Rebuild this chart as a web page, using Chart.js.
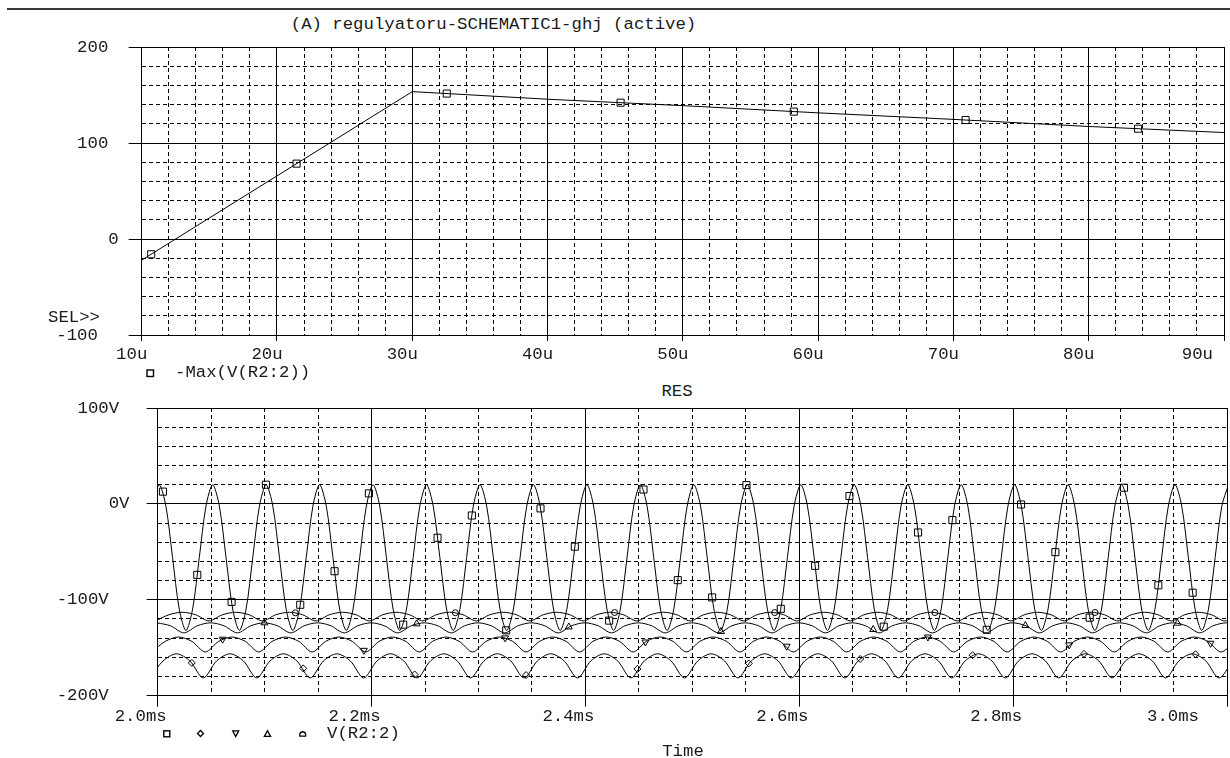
<!DOCTYPE html>
<html>
<head>
<meta charset="utf-8">
<script src="https://cdn.jsdelivr.net/npm/chart.js@4.4.1/dist/chart.umd.min.js"></script>
<style>
  html, body { margin: 0; padding: 0; background: #fff; overflow: hidden; }
  body { width: 1230px; height: 758px; position: relative; }
  canvas { position: absolute; left: 0; }
  #topPlot { top: 0; }
  #resPlot { top: 380px; }
  .txt {
    position: absolute; white-space: pre; line-height: 1;
    font-family: 'Liberation Mono', 'Courier New', monospace; font-size: 17.33px; color: #1a1a1a;
    transform: translate(0, -50%);
  }
  .mid { transform: translate(-50%, -50%); }
  .rule { position: absolute; left: 7px; top: 8px; width: 1223px; height: 2px; background: #3a3a3a; }
  svg { position: absolute; overflow: visible; }
</style>
</head>
<body>
<div class="rule"></div>
<div class="txt mid" style="left:493.5px; top:25px">(A) regulyatoru-SCHEMATIC1-ghj (active)</div>
<canvas id="topPlot" width="1230" height="380"></canvas>
<div class="txt" style="left:48px; top:318px">SEL&gt;&gt;</div>
<svg style="left:146px; top:369px" width="9" height="9"><rect x="1" y="1" width="6.5" height="6.5" fill="none" stroke="#000" stroke-width="1.4"/></svg>
<div class="txt" style="left:175px; top:373px">-Max(V(R2:2))</div>
<div class="txt mid" style="left:677px; top:392px">RES</div>
<canvas id="resPlot" width="1233" height="378"></canvas>
<svg style="left:163px; top:730px" width="8" height="8"><rect x="0.8" y="0.8" width="6" height="6" fill="none" stroke="#000" stroke-width="1.4"/></svg>
<svg style="left:197px; top:730px" width="8" height="8"><path d="M3.5 0.5 L6.5 3.5 L3.5 6.5 L0.5 3.5 Z" fill="none" stroke="#000" stroke-width="1.3"/></svg>
<svg style="left:232px; top:730px" width="8" height="8"><path d="M0.7 0.8 L6.7 0.8 L3.7 6.6 Z" fill="none" stroke="#000" stroke-width="1.3"/></svg>
<svg style="left:264px; top:730px" width="8" height="8"><path d="M3.5 0.7 L6.6 6.4 L0.4 6.4 Z" fill="none" stroke="#000" stroke-width="1.3"/></svg>
<svg style="left:299px; top:730px" width="8" height="8"><path d="M0.8 6.2 L0.8 4 A3 3 0 0 1 6.6 4 L6.6 6.2 Z" fill="none" stroke="#000" stroke-width="1.3"/></svg>
<div class="txt" style="left:327px; top:734px">V(R2:2)</div>
<div class="txt mid" style="left:683px; top:752px">Time</div>

<script>
// --- DATA: top panel, -Max(V(R2:2)) against the swept value (u) ---
const sweepX = [10, 30, 40, 50, 60, 70, 80, 90];
const sweepMaxV = [-22, 153.5, 145.6, 138.9, 131.4, 124.6, 117.2, 110.9];
const sweepMarkX = [10.7, 21.45, 32.55, 45.4, 58.2, 70.9, 83.65];
const sweepMarkV = [-15.9, 78.5, 151.5, 142.0, 132.7, 123.9, 114.9];

// --- DATA: bottom panel, V(R2:2) for the five sweep runs (time in us) ---
const runStart = [1995.15, 1998.0, 1999.5, 1994.5, 1992.6];
const runStep = [6.25, 12.5, 12.5, 12.5, 12.5];

const runSquare = [
  -2.3, 20, -2.3, -56, -109.7, -132, -109.7, -56,
  -2.3, 20, -2.3, -56, -109.7, -132, -109.7, -56,
  -2.3, 20, -2.3, -56, -109.7, -132, -109.7, -56,
  -2.3, 20, -2.3, -56, -109.7, -132, -109.7, -56,
  -2.3, 20, -2.3, -56, -109.7, -132, -109.7, -56,
  -2.3, 20, -2.3, -56, -109.7, -132, -109.7, -56,
  -2.3, 20, -2.3, -56, -109.7, -132, -109.7, -56,
  -2.3, 20, -2.3, -56, -109.7, -132, -109.7, -56,
  -2.3, 20, -2.3, -56, -109.7, -132, -109.7, -56,
  -2.3, 20, -2.3, -56, -109.7, -132, -109.7, -56,
  -2.3, 20, -2.3, -56, -109.7, -132, -109.7, -56,
  -2.3, 20, -2.3, -56, -109.7, -132, -109.7, -56,
  -2.3, 20, -2.3, -56, -109.7, -132, -109.7, -56,
  -2.3, 20, -2.3, -56, -109.7, -132, -109.7, -56,
  -2.3, 20, -2.3, -56, -109.7, -132, -109.7, -56,
  -2.3, 20, -2.3, -56, -109.7, -132, -109.7, -56,
  -2.3, 20, -2.3, -56, -109.7, -132, -109.7, -56,
  -2.3, 20, -2.3, -56, -109.7, -132, -109.7, -56,
  -2.3, 20, -2.3, -56, -109.7, -132, -109.7, -56,
  -2.3, 20, -2.3, -56, -109.7, -132, -109.7, -56,
  -2.3, 20
];
const runCircle = [
  -122, -115.6, -113, -115.6, -122, -115.6, -113, -115.6,
  -122, -115.6, -113, -115.6, -122, -115.6, -113, -115.6,
  -122, -115.6, -113, -115.6, -122, -115.6, -113, -115.6,
  -122, -115.6, -113, -115.6, -122, -115.6, -113, -115.6,
  -122, -115.6, -113, -115.6, -122, -115.6, -113, -115.6,
  -122, -115.6, -113, -115.6, -122, -115.6, -113, -115.6,
  -122, -115.6, -113, -115.6, -122, -115.6, -113, -115.6,
  -122, -115.6, -113, -115.6, -122, -115.6, -113, -115.6,
  -122, -115.6, -113, -115.6, -122, -115.6, -113, -115.6,
  -122, -115.6, -113, -115.6, -122, -115.6, -113, -115.6,
  -122, -115.6
];
const runTriUp = [
  -124, -127.1, -134.5, -127.1, -124, -127.1, -134.5, -127.1,
  -124, -127.1, -134.5, -127.1, -124, -127.1, -134.5, -127.1,
  -124, -127.1, -134.5, -127.1, -124, -127.1, -134.5, -127.1,
  -124, -127.1, -134.5, -127.1, -124, -127.1, -134.5, -127.1,
  -124, -127.1, -134.5, -127.1, -124, -127.1, -134.5, -127.1,
  -124, -127.1, -134.5, -127.1, -124, -127.1, -134.5, -127.1,
  -124, -127.1, -134.5, -127.1, -124, -127.1, -134.5, -127.1,
  -124, -127.1, -134.5, -127.1, -124, -127.1, -134.5, -127.1,
  -124, -127.1, -134.5, -127.1, -124, -127.1, -134.5, -127.1,
  -124, -127.1, -134.5, -127.1, -124, -127.1, -134.5, -127.1,
  -124, -127.1
];
const runTriDown = [
  -154.4, -143.4, -138.8, -143.4, -154.4, -143.4, -138.8, -143.4,
  -154.4, -143.4, -138.8, -143.4, -154.4, -143.4, -138.8, -143.4,
  -154.4, -143.4, -138.8, -143.4, -154.4, -143.4, -138.8, -143.4,
  -154.4, -143.4, -138.8, -143.4, -154.4, -143.4, -138.8, -143.4,
  -154.4, -143.4, -138.8, -143.4, -154.4, -143.4, -138.8, -143.4,
  -154.4, -143.4, -138.8, -143.4, -154.4, -143.4, -138.8, -143.4,
  -154.4, -143.4, -138.8, -143.4, -154.4, -143.4, -138.8, -143.4,
  -154.4, -143.4, -138.8, -143.4, -154.4, -143.4, -138.8, -143.4,
  -154.4, -143.4, -138.8, -143.4, -154.4, -143.4, -138.8, -143.4,
  -154.4, -143.4, -138.8, -143.4, -154.4, -143.4, -138.8, -143.4,
  -154.4, -143.4
];
const runDiamond = [
  -181.5, -163.7, -156.3, -163.7, -181.5, -163.7, -156.3, -163.7,
  -181.5, -163.7, -156.3, -163.7, -181.5, -163.7, -156.3, -163.7,
  -181.5, -163.7, -156.3, -163.7, -181.5, -163.7, -156.3, -163.7,
  -181.5, -163.7, -156.3, -163.7, -181.5, -163.7, -156.3, -163.7,
  -181.5, -163.7, -156.3, -163.7, -181.5, -163.7, -156.3, -163.7,
  -181.5, -163.7, -156.3, -163.7, -181.5, -163.7, -156.3, -163.7,
  -181.5, -163.7, -156.3, -163.7, -181.5, -163.7, -156.3, -163.7,
  -181.5, -163.7, -156.3, -163.7, -181.5, -163.7, -156.3, -163.7,
  -181.5, -163.7, -156.3, -163.7, -181.5, -163.7, -156.3, -163.7,
  -181.5, -163.7, -156.3, -163.7, -181.5, -163.7, -156.3, -163.7,
  -181.5, -163.7
];

// trace symbols (time us, value V)
const markSquareT = [2004.9, 2037.0, 2069.1, 2101.2, 2133.3, 2165.4, 2197.5, 2229.6, 2261.7, 2293.8, 2325.9,
  2358.0, 2390.1, 2422.2, 2454.3, 2486.4, 2518.5, 2550.6, 2582.7, 2614.8, 2646.9, 2679.0, 2711.1,
  2743.2, 2775.3, 2807.4, 2839.5, 2871.6, 2903.7, 2935.8, 2967.9];
const markSquareV = [12.8, -74.0, -102.2, 20.0, -105.2, -70.2, 11.0, -125.9, -35.3, -12.1, -131.8,
  -4.7, -44.6, -121.7, 15.0, -79.5, -97.5, 19.6, -109.4, -64.6, 8.2, -128.0, -29.8,
  -16.9, -131.3, -0.6, -50.3, -118.6, 16.9, -84.9, -92.6];
const markDiamondT = [2031.9, 2136.1, 2240.3, 2344.5, 2448.7, 2552.8, 2657.0, 2762.1, 2866.3, 2970.5];
const markDiamondV = [-165.8, -171.5, -177.9, -178.5, -172.1, -166.4, -161.7, -157.8, -156.4, -156.7];
const markTriDownT = [2060.7, 2192.8, 2324.9, 2456.1, 2588.2, 2720.3, 2852.4, 2984.6];
const markTriDownV = [-141.1, -152.7, -139.7, -144.0, -148.4, -138.8, -147.0, -145.3];
const markTriUpT = [2099.8, 2242.2, 2384.5, 2526.8, 2669.1, 2811.4, 2953.7];
const markTriUpV = [-124.0, -125.1, -128.3, -133.0, -131.0, -126.8, -124.4];
const markCircleT = [2128.7, 2278.4, 2427.3, 2577.0, 2726.8, 2876.6];
const markCircleV = [-113.6, -113.5, -113.3, -113.3, -113.3, -113.2];

// --- STYLE ---
const FONT = "'Liberation Mono', 'Courier New', monospace";
const INK = '#1a1a1a';

// --- HELPERS ---
function pairs(xs, ys) {
    return xs.map((x, i) => ({ x: x, y: ys[i] }));
}

function runSet(values, run) {
    return {
        data: values.map((v, i) => ({ x: runStart[run] + i * runStep[run], y: v })),
        showLine: true,
        borderColor: '#000',
        borderWidth: 1,
        pointRadius: 0,
        tension: 0.3
    };
}

function markSet(xs, ys, style, radius, rotation) {
    return {
        data: pairs(xs, ys),
        showLine: false,
        pointStyle: style,
        pointRadius: radius,
        rotation: rotation || 0,
        borderColor: '#000',
        backgroundColor: 'rgba(0,0,0,0)',
        borderWidth: 1
    };
}

function gridOpts(isMajor, tickLen) {
    return {
        color: '#000',
        lineWidth: 1,
        tickLength: tickLen,
        tickColor: c => (c.tick && isMajor(c.tick.value)) ? '#000' : 'rgba(0,0,0,0)'
    };
}

function borderOpts(isMajor) {
    return {
        display: false,
        dash: c => (c.tick && !isMajor(c.tick.value)) ? [4, 3] : []
    };
}

// x tick labels, PSpice style: shifted left, last one kept inside the window
function xLabels(isMajor, fmt, dx, dy, maxRight) {
    return {
        id: 'xLabels',
        afterDraw(chart) {
            const { ctx, chartArea } = chart;
            const sx = chart.scales.x;
            ctx.save();
            ctx.font = '17.33px ' + FONT;
            ctx.fillStyle = INK;
            ctx.textAlign = 'center';
            ctx.textBaseline = 'middle';
            sx.ticks.forEach(t => {
                if (!isMajor(t.value)) return;
                const text = fmt(t.value);
                const half = ctx.measureText(text).width / 2;
                const cx = Math.min(sx.getPixelForValue(t.value) + dx, maxRight - half);
                ctx.fillText(text, cx, chartArea.bottom + dy);
            });
            ctx.restore();
        }
    };
}

const baseOptions = {
    responsive: false,
    animation: false,
    events: [],
    plugins: { legend: { display: false }, tooltip: { enabled: false } }
};

// --- TOP PANEL ---
const majorU = v => v % 10 === 0;
const major100 = v => v % 100 === 0;
const topYLabels = { 200: '200 ', 100: '100 ', 0: '0', '-100': '-100  ' };

new Chart(document.getElementById('topPlot'), {
    type: 'scatter',
    data: {
        datasets: [
            { data: pairs(sweepX, sweepMaxV), showLine: true, borderColor: '#000', borderWidth: 1, pointRadius: 0, tension: 0 },
            markSet(sweepMarkX, sweepMarkV, 'rect', 5)
        ]
    },
    plugins: [xLabels(majorU, v => v + 'u', -10, 19, 1213)],
    options: Object.assign({}, baseOptions, {
        layout: { padding: { top: 47, left: 0, right: 0, bottom: 0 } },
        scales: {
            x: {
                type: 'linear', min: 10, max: 90,
                afterFit: s => { s.height = 45; },
                ticks: { display: false, stepSize: 2 },
                grid: gridOpts(majorU, 6),
                border: borderOpts(majorU)
            },
            y: {
                type: 'linear', min: -100, max: 200,
                afterFit: s => { s.width = 141.7; },
                ticks: {
                    stepSize: 20, autoSkip: false, padding: 10,
                    color: INK, font: { family: FONT, size: 17.33 },
                    callback: v => topYLabels[v] || ''
                },
                grid: gridOpts(major100, 13),
                border: borderOpts(major100)
            }
        }
    })
});

// --- BOTTOM PANEL (RES) ---
const majorMs = v => v % 200 === 0;
const resYLabels = { 100: '100V ', 0: '0V', '-100': '-100V  ', '-200': '-200V  ' };

new Chart(document.getElementById('resPlot'), {
    type: 'scatter',
    data: {
        datasets: [
            runSet(runSquare, 0),
            runSet(runCircle, 1),
            runSet(runTriUp, 2),
            runSet(runTriDown, 3),
            runSet(runDiamond, 4),
            markSet(markSquareT, markSquareV, 'rect', 5),
            markSet(markCircleT, markCircleV, 'circle', 3),
            markSet(markTriUpT, markTriUpV, 'triangle', 4),
            markSet(markTriDownT, markTriDownV, 'triangle', 4, 180),
            markSet(markDiamondT, markDiamondV, 'rectRot', 3.5)
        ]
    },
    plugins: [xLabels(majorMs, v => (v / 1000).toFixed(1) + 'ms', -17, 21, 1199)],
    options: Object.assign({}, baseOptions, {
        layout: { padding: { top: 28, left: 0, right: 0, bottom: 0 } },
        scales: {
            x: {
                type: 'linear', min: 2000, max: 3000,
                afterFit: s => { s.height = 62.3; },
                ticks: { display: false, stepSize: 50 },
                grid: gridOpts(majorMs, 11),
                border: borderOpts(majorMs)
            },
            y: {
                type: 'linear', min: -200, max: 100,
                afterFit: s => { s.width = 157.7; },
                ticks: {
                    stepSize: 20, autoSkip: false, padding: 17.2,
                    color: INK, font: { family: FONT, size: 17.33 },
                    callback: v => resYLabels[v] || ''
                },
                grid: gridOpts(major100, 11),
                border: borderOpts(major100)
            }
        }
    })
});
</script>
</body>
</html>
